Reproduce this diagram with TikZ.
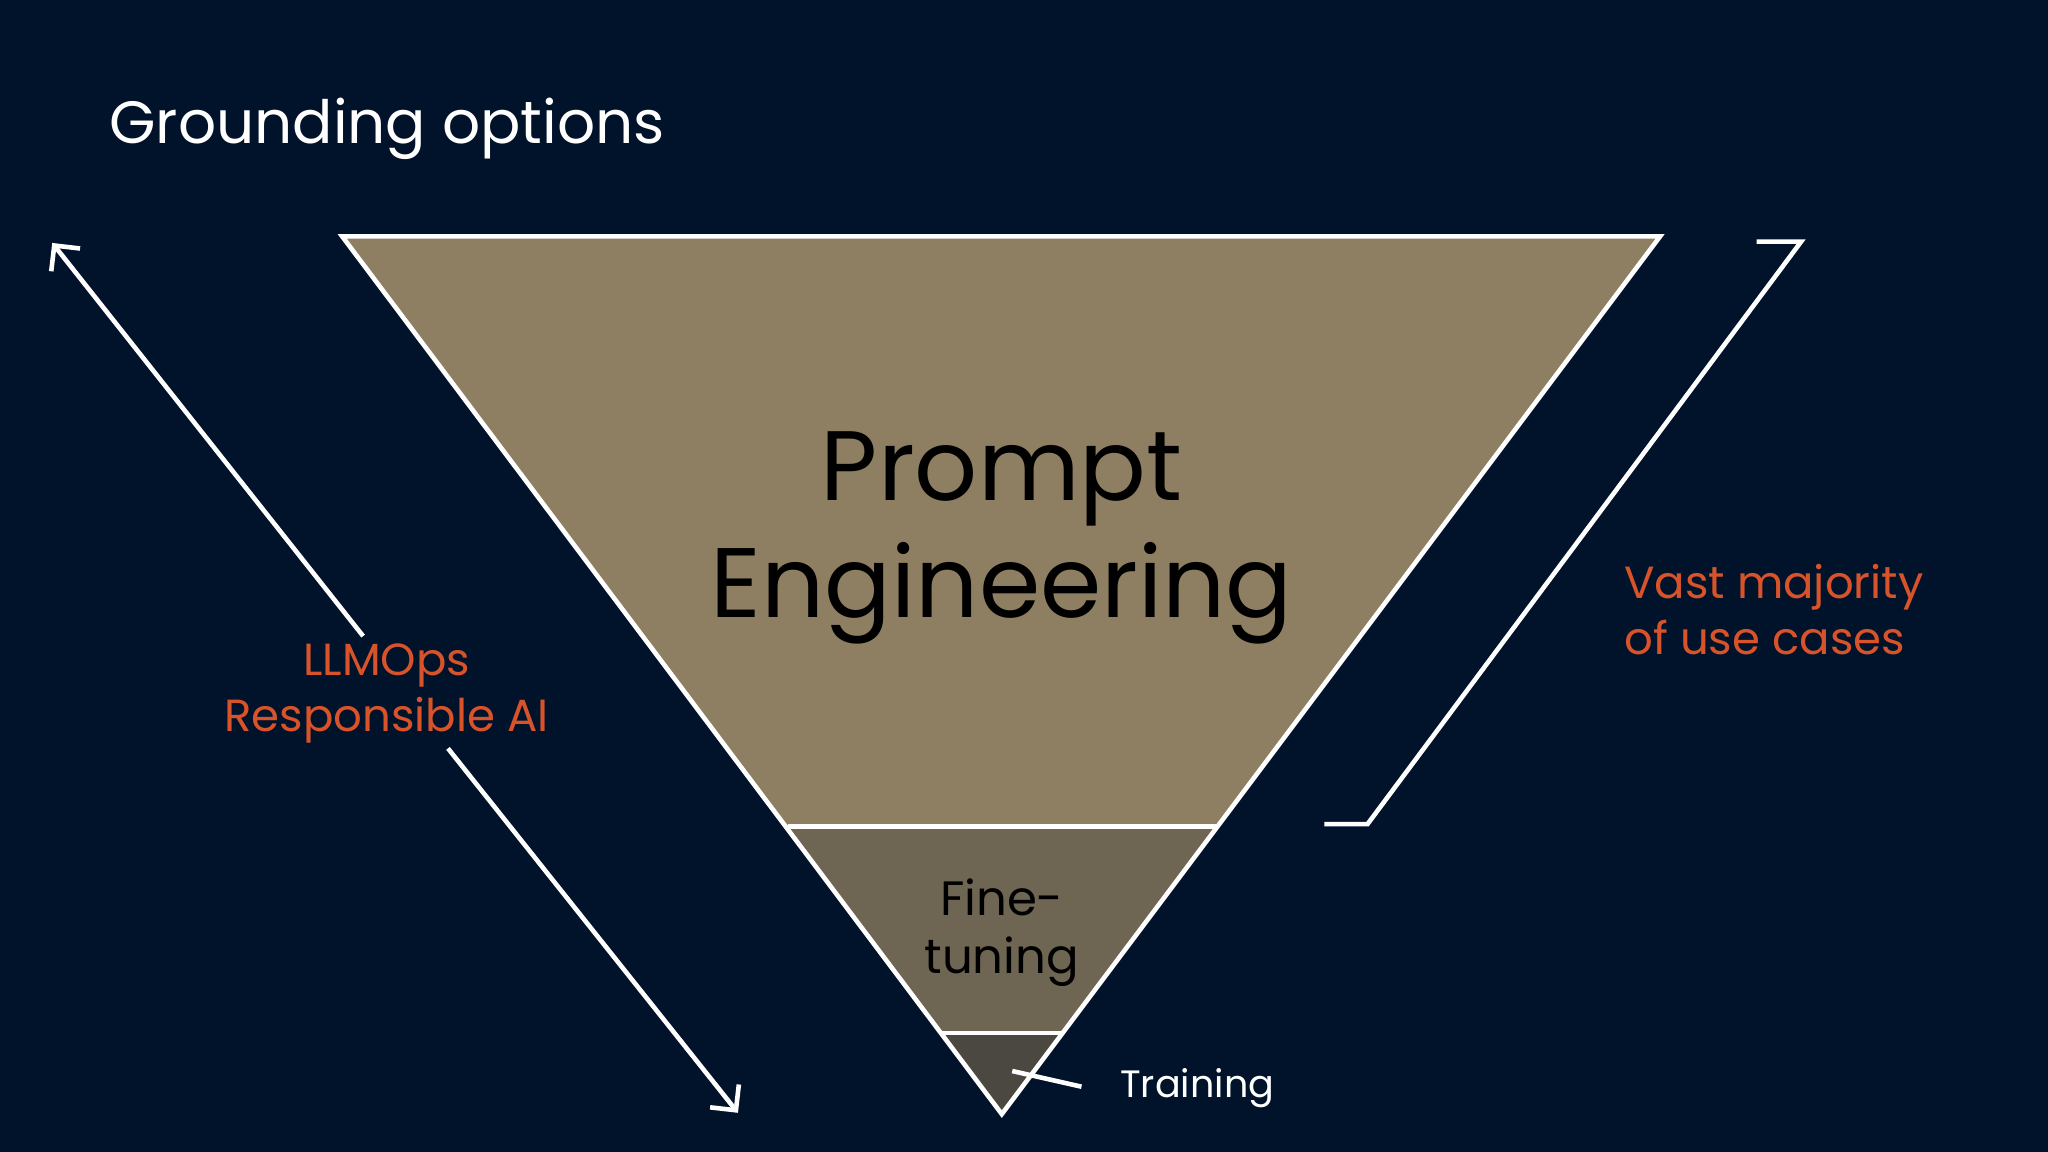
\documentclass[tikz,border=0pt]{standalone}
\usepackage{fontspec}
\setmainfont{Poppins}
\usetikzlibrary{arrows.meta}
\definecolor{bg}{HTML}{01132B}
\definecolor{pe}{HTML}{8E7F62}
\definecolor{ft}{HTML}{6E6552}
\definecolor{tr}{HTML}{4A4840}
\definecolor{og}{HTML}{D9532A}
\tikzset{wl/.style={draw=white,line width=1pt},
 arr/.style={wl,-{Straight Barb[length=4pt,width=8pt]}},
 otxt/.style={text=og,font=\fontsize{9.8}{12.2}\selectfont,align=center}}
\begin{document}
\begin{tikzpicture}[x=0.01cm,y=-0.01cm]
\fill[bg] (0,0) rectangle (1568,882);
\useasboundingbox (0,0) rectangle (1568,882);
\node[anchor=west,text=white,font=\fontsize{13}{15}\selectfont,inner sep=0pt] (title) at (83,99) {Grounding options};
\coordinate (tl) at (262,181); \coordinate (trr) at (1271,181); \coordinate (ap) at (767,853);
\coordinate (fl) at (603,633); \coordinate (fr) at (931,633);
\coordinate (gl) at (720,791); \coordinate (gr) at (813,791);
\fill[pe] (tl)--(trr)--(fr)--(fl)--cycle;
\fill[ft] (fl)--(fr)--(gr)--(gl)--cycle;
\fill[tr] (gl)--(gr)--(ap)--cycle;
\draw[wl] (tl)--(trr)--(ap)--cycle;
\draw[wl] (fl)--(fr); \draw[wl] (gl)--(gr);
\node[font=\fontsize{21.5}{25.5}\selectfont,align=center] (pe) at (767,412) {Prompt\\Engineering};
\node[font=\fontsize{10.5}{12.5}\selectfont,align=center] (ftn) at (767,714) {Fine-\\tuning};
\node[text=white,font=\fontsize{8.3}{10}\selectfont,anchor=west,inner sep=0pt] (trn) at (857,833) {Training};
\coordinate (l1) at (828,832); \coordinate (l2) at (775,820);
\draw[wl] (l1)--(l2);
\node[otxt] (llm) at (296,531) {LLMOps\\Responsible AI};
\coordinate (a1) at (278,487); \coordinate (a2) at (40,186);
\coordinate (b1) at (343,573); \coordinate (b2) at (565,852);
\draw[arr] (a1)--(a2); \draw[arr] (b1)--(b2);
\coordinate (r1) at (1345,185); \coordinate (r2) at (1379,185);
\coordinate (r3) at (1047,631); \coordinate (r4) at (1014,631);
\draw[wl] (r1)--(r2)--(r3)--(r4);
\node[otxt,align=left,anchor=west,inner sep=0pt] (vast) at (1243,467) {Vast majority\\of use cases};
\end{tikzpicture}
\end{document}
